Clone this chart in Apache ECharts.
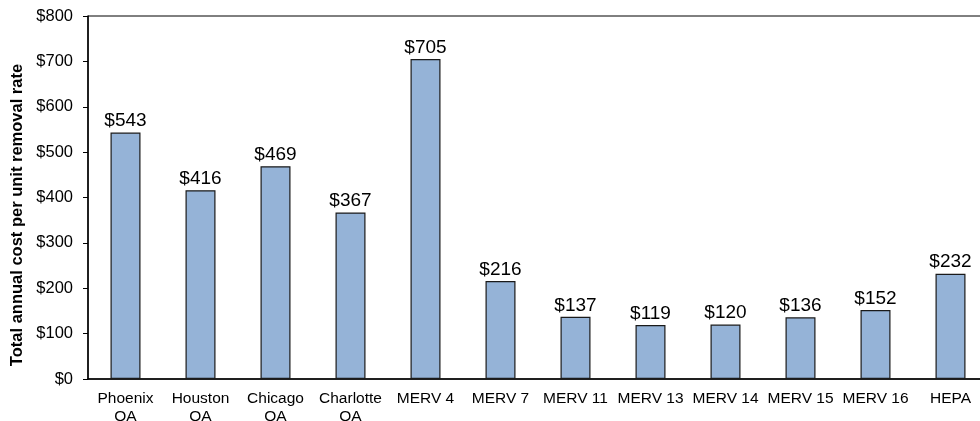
<!DOCTYPE html>
<html>
<head>
<meta charset="utf-8">
<script src="https://cdn.jsdelivr.net/npm/echarts@6/dist/echarts.min.js"></script>
<style>
  html, body { margin: 0; padding: 0; background: #fff; overflow: hidden; width: 980px; height: 421px; }
  #frame { position: relative; width: 980px; height: 421px; overflow: hidden; }
  #chart { position: absolute; left: 0; top: 0; width: 990px; height: 421px; }
</style>
</head>
<body>
<div id="frame"><div id="chart"></div></div>
<script>
// Filter / outdoor-air options compared on annual cost
const categories = ['Phoenix\nOA', 'Houston\nOA', 'Chicago\nOA', 'Charlotte\nOA',
  'MERV 4', 'MERV 7', 'MERV 11', 'MERV 13', 'MERV 14', 'MERV 15', 'MERV 16', 'HEPA'];
const costValues = [543, 416, 469, 367, 705, 216, 137, 119, 120, 136, 152, 232];
const yTicks = [0, 100, 200, 300, 400, 500, 600, 700, 800];
const yTitle = 'Total annual cost per unit removal rate';

const FONT = '"Liberation Sans", Arial, sans-serif';

const chart = echarts.init(document.getElementById('chart'), null, { renderer: 'canvas' });
chart.setOption({
  animation: false,
  backgroundColor: '#ffffff',
  grid: {
    left: 88, right: 2, top: 16, bottom: 42,
    containLabel: false,
    outerBoundsMode: 'none',
    show: true, borderColor: '#000000', borderWidth: 1, backgroundColor: 'transparent'
  },
  graphic: [{
    type: 'text',
    x: 17, y: 215,
    rotation: Math.PI / 2,
    style: {
      text: yTitle,
      fill: '#000000',
      font: 'bold 16.5px ' + FONT,
      textAlign: 'center',
      textVerticalAlign: 'middle'
    }
  }],
  xAxis: {
    type: 'category',
    data: categories,
    axisLine: { lineStyle: { color: '#000000', width: 1.5 } },
    axisTick: { show: false },
    axisLabel: {
      color: '#000000', fontFamily: FONT, fontSize: 15.5, lineHeight: 18,
      margin: 11, interval: 0
    }
  },
  yAxis: {
    type: 'value',
    min: yTicks[0], max: yTicks[yTicks.length - 1], interval: 100,
    axisLine: { show: true, lineStyle: { color: '#000000', width: 1.5 } },
    axisTick: { show: true, inside: false, length: 5, lineStyle: { color: '#000000' } },
    splitLine: { show: false },
    axisLabel: {
      color: '#000000', fontFamily: FONT, fontSize: 16.5, margin: 15,
      formatter: v => '$' + v
    }
  },
  series: [{
    type: 'bar',
    data: costValues,
    barWidth: '40%',
    itemStyle: { color: '#95B3D7', borderColor: '#1a1a1a', borderWidth: 1.2 },
    label: {
      show: true, position: 'top', distance: 2,
      color: '#000000', fontFamily: FONT, fontSize: 19,
      formatter: p => '$' + p.value
    }
  }]
});
</script>
</body>
</html>
